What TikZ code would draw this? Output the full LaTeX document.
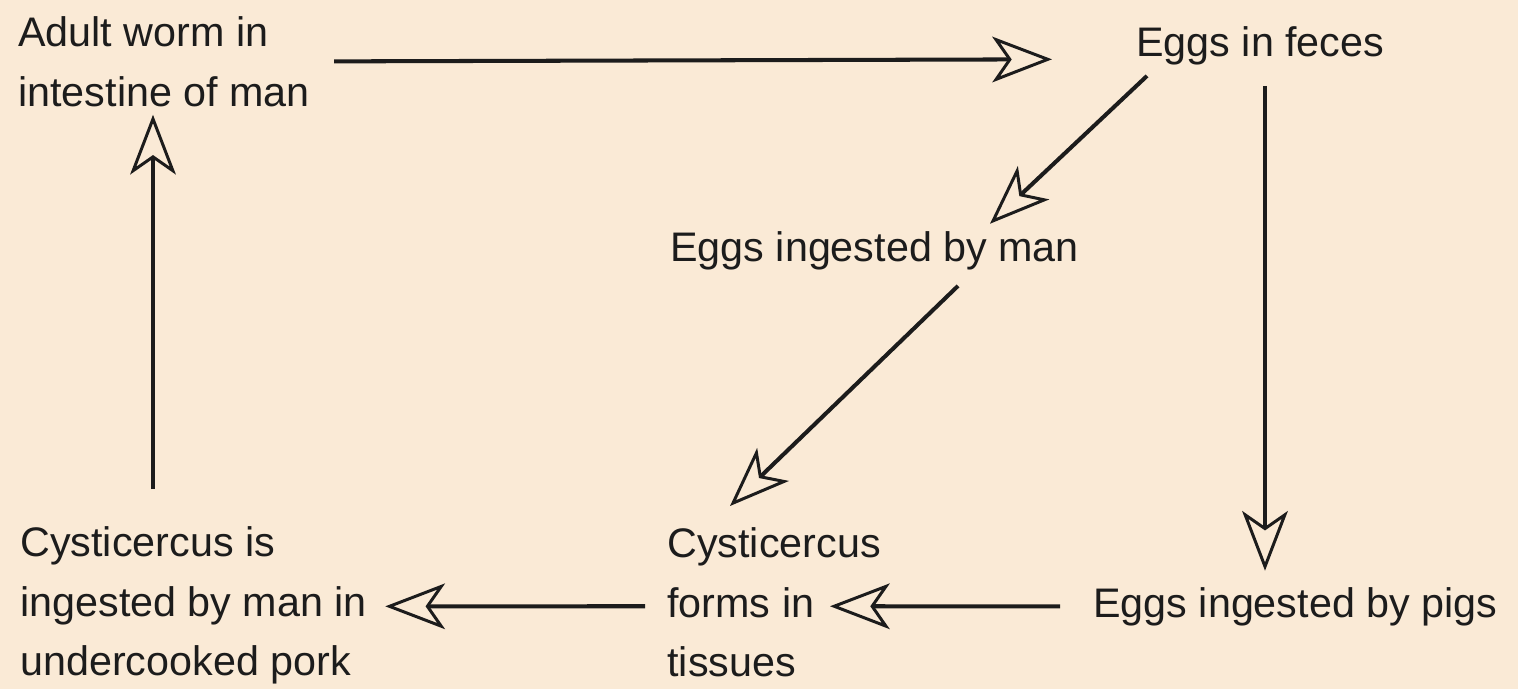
\documentclass[tikz,border=0pt]{standalone}
\usepackage{fontspec}
\setmainfont{Liberation Sans}
\usepackage{tikz}
\usetikzlibrary{calc, arrows.meta}
\definecolor{paper}{RGB}{250,234,214}
\definecolor{ink}{RGB}{28,28,28}

\begin{document}
\begin{tikzpicture}[x=0.02cm, y=-0.02cm,
  lbl/.style={inner sep=0pt, text=ink, font=\fontsize{23.5}{34}\selectfont, align=left},
  flow/.style={line width=2.3pt, draw=ink,
    -{Stealth[open, length=34pt, width=26pt, inset=9pt, line width=1.7pt]}}]

%% ── canvas (pixel units, origin top left) ────────────────────────
\useasboundingbox (0,0) rectangle (1518,689);
\fill[paper] (0,0) rectangle (1518,689);

%% ── stages of the life cycle ─────────────────────────────────────
\node[lbl, anchor=north west] (adult) at (18,16) {Adult worm in\\intestine of man};
\node[lbl, anchor=base west] (feces) at (1136,57) {Eggs in feces};
\node[lbl, anchor=base west] (eggman) at (670,262) {Eggs ingested by man};
\node[lbl, anchor=base west] (pigs) at (1093,617) {Eggs ingested by pigs};
\node[lbl, anchor=north west] (forms) at (667,527) {Cysticercus\\forms in\\tissues};
\node[lbl, anchor=north west] (pork) at (20,526) {Cysticercus is\\ingested by man in\\undercooked pork};

%% ── connectors ───────────────────────────────────────────────────
\draw[flow] ($(adult.east)+(24,0)$) -- ($(feces.west)+(-84,13)$);
\draw[flow] ($(feces.south west)+(11,10)$) -- ($(eggman.north west)+(320,-8)$);
\draw[flow] ($(feces.south west)+(129,20)$) -- ($(pigs.north west)+(172,-16)$);
\draw[flow] ($(eggman.south west)+(288,15)$) -- ($(forms.north west)+(63,-21)$);
\draw[flow] ($(pigs.west)+(-33,0)$) -- ($(forms.west)+(163,4)$);
\draw[flow] ($(forms.west)+(-22,4)$) -- ($(pork.east)+(18,1)$);
\draw[flow] ($(pork.north west)+(133,-37)$) -- ($(adult.south west)+(135,8)$);

\end{tikzpicture}
\end{document}
